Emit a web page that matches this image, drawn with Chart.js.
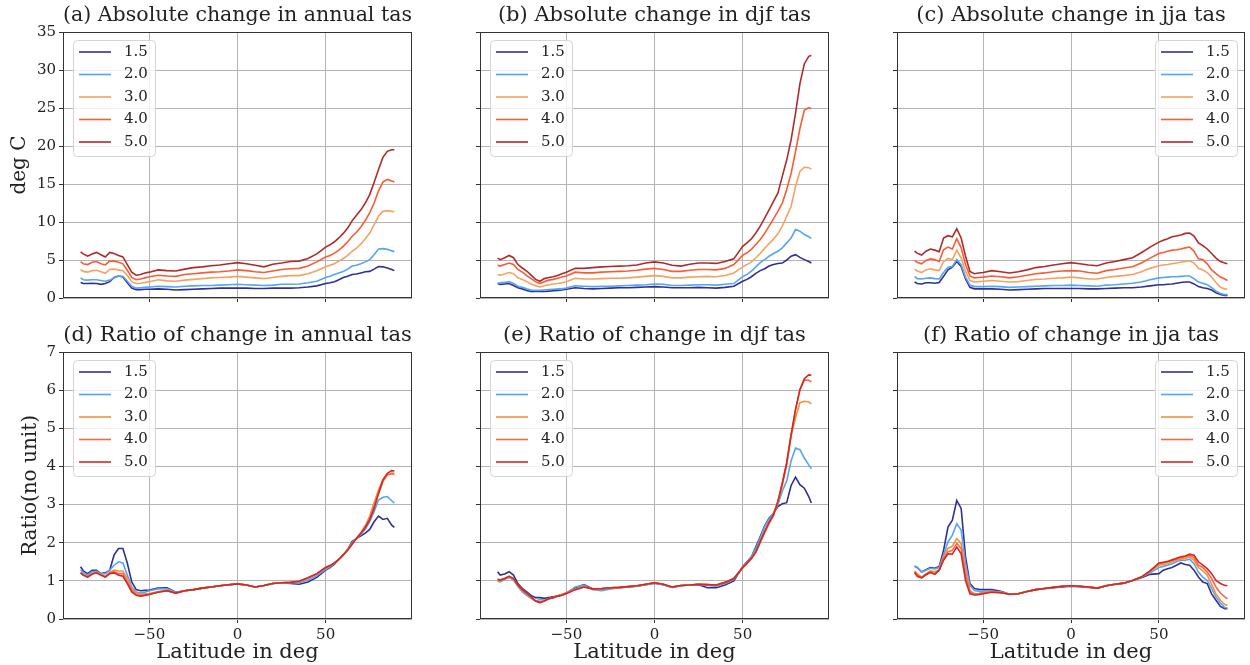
<!DOCTYPE html>
<html><head><meta charset="utf-8">
<script src="https://cdn.jsdelivr.net/npm/chart.js@4.4.0/dist/chart.umd.min.js"></script>
<style>
html,body{margin:0;padding:0;background:#fff;}
#wrap{position:relative;width:1250px;height:665px;overflow:hidden;background:#fff;}
canvas{position:absolute;}
</style></head><body><div id="wrap"></div>
<script>
// ---------- data ----------
const lat = [-89,-87.5,-85,-82.5,-80,-77.5,-75,-72.5,-70,-67.5,-65,-62.5,-60,-57.5,-55,-52.5,-50,
  -45,-40,-35,-30,-25,-20,-15,-10,-5,0,5,10,15,20,25,30,35,40,45,
  50,52.5,55,57.5,60,62.5,65,67.5,70,72.5,75,77.5,80,82.5,85,87.5,89];
const levels = ['1.5','2.0','3.0','4.0','5.0'];
const xTicks = [-50,0,50];
const yTicksAbs = [0,5,10,15,20,25,30,35];
const yTicksRatio = [0,1,2,3,4,5,6,7];

// (a) absolute change, annual
const a15 = [2.05,1.9,1.9,1.95,1.9,1.8,1.9,2.15,2.7,2.9,2.75,2.0,1.3,1.1,1.1,1.15,1.15,
  1.2,1.15,1.05,1.1,1.15,1.2,1.25,1.3,1.3,1.3,1.3,1.25,1.25,1.3,1.3,1.3,1.35,1.45,1.6,
  1.9,2.0,2.15,2.4,2.7,2.85,3.1,3.15,3.3,3.45,3.5,3.8,4.15,4.1,3.95,3.75,3.6];
const a20 = [2.65,2.4,2.35,2.4,2.4,2.3,2.2,2.35,2.65,2.9,2.85,2.2,1.55,1.3,1.35,1.4,1.45,
  1.55,1.5,1.45,1.55,1.6,1.65,1.65,1.7,1.75,1.8,1.75,1.7,1.65,1.7,1.8,1.8,1.85,2.0,2.2,
  2.7,2.85,3.1,3.3,3.5,3.8,4.2,4.3,4.5,4.75,5.05,5.7,6.45,6.5,6.4,6.2,6.1];
const a30 = [3.75,3.5,3.4,3.6,3.65,3.45,3.25,3.75,3.8,3.7,3.6,2.95,2.15,1.9,1.95,2.05,2.15,
  2.4,2.25,2.2,2.35,2.45,2.55,2.65,2.7,2.75,2.85,2.75,2.65,2.55,2.7,2.85,2.95,2.95,3.2,3.6,
  4.1,4.3,4.5,4.85,5.2,5.6,6.15,6.55,7.1,7.8,8.55,9.65,10.75,11.4,11.5,11.4,11.35];
const a40 = [4.8,4.5,4.4,4.7,4.8,4.5,4.35,4.85,4.85,4.7,4.5,3.65,2.7,2.4,2.5,2.65,2.8,
  3.0,2.9,2.85,3.1,3.2,3.3,3.4,3.45,3.55,3.7,3.6,3.45,3.35,3.55,3.75,3.85,3.9,4.2,4.75,
  5.4,5.6,5.9,6.3,6.8,7.4,8.1,8.65,9.35,10.2,11.2,12.5,14.1,15.25,15.6,15.4,15.25];
const a50 = [6.07,5.8,5.5,5.8,6.0,5.7,5.4,6.0,5.85,5.6,5.4,4.4,3.4,3.0,3.1,3.3,3.4,
  3.7,3.6,3.55,3.8,4.0,4.1,4.25,4.35,4.5,4.65,4.5,4.3,4.1,4.45,4.6,4.8,4.85,5.2,5.8,
  6.7,7.0,7.4,7.9,8.5,9.2,10.15,10.9,11.6,12.5,13.6,15.2,16.9,18.5,19.3,19.5,19.5];

// (b) absolute change, djf
const b15 = [1.9,1.8,1.85,1.9,1.65,1.35,1.2,1.0,0.85,0.85,0.85,0.85,0.9,0.95,1.0,1.05,1.15,
  1.35,1.25,1.2,1.25,1.3,1.35,1.35,1.4,1.45,1.5,1.45,1.35,1.35,1.35,1.4,1.35,1.3,1.4,1.55,
  2.2,2.45,2.8,3.25,3.6,3.85,4.2,4.4,4.55,4.6,5.0,5.5,5.7,5.35,5.05,4.8,4.6];
const b20 = [1.95,2.0,2.05,2.15,1.9,1.55,1.4,1.2,1.05,1.0,1.0,1.05,1.1,1.15,1.2,1.2,1.3,
  1.6,1.55,1.5,1.55,1.55,1.6,1.65,1.7,1.75,1.85,1.8,1.65,1.65,1.7,1.75,1.75,1.7,1.8,1.9,
  2.8,3.1,3.55,4.1,4.65,5.05,5.5,5.85,6.15,6.6,7.25,7.9,9.0,8.8,8.35,8.05,7.85];
const b30 = [3.1,3.0,3.15,3.35,3.2,2.65,2.45,2.15,1.85,1.6,1.45,1.6,1.75,1.85,1.9,2.0,2.15,
  2.6,2.5,2.5,2.55,2.6,2.6,2.65,2.75,2.85,2.95,2.85,2.65,2.65,2.75,2.8,2.85,2.8,2.95,3.3,
  4.1,4.4,4.75,5.3,5.85,6.55,7.15,7.75,8.45,9.45,10.75,12.05,14.65,16.65,17.2,17.15,16.95];
const b40 = [4.3,4.2,4.4,4.6,4.4,3.75,3.4,2.95,2.55,2.15,1.9,2.15,2.35,2.45,2.6,2.75,2.9,
  3.4,3.3,3.3,3.4,3.45,3.5,3.55,3.65,3.8,3.9,3.75,3.5,3.5,3.65,3.75,3.75,3.7,3.9,4.4,
  5.6,5.95,6.4,7.05,7.7,8.5,9.45,10.4,11.4,12.5,14.25,16.4,19.25,22.3,24.7,25.05,24.9];
const b50 = [5.25,5.05,5.3,5.6,5.3,4.4,3.95,3.55,3.0,2.45,2.2,2.55,2.7,2.8,2.95,3.2,3.4,
  3.9,3.9,4.0,4.1,4.15,4.2,4.25,4.35,4.6,4.75,4.6,4.3,4.2,4.45,4.6,4.6,4.55,4.8,5.15,
  6.8,7.25,7.8,8.55,9.45,10.5,11.6,12.7,13.8,16.0,18.15,20.8,24.3,28.2,30.8,31.8,31.9];

// (c) absolute change, jja
const c15 = [2.1,1.9,1.85,2.0,2.0,1.95,2.05,2.85,3.7,4.05,4.8,4.15,2.5,1.4,1.2,1.2,1.2,
  1.2,1.15,1.05,1.1,1.15,1.2,1.25,1.25,1.25,1.25,1.25,1.2,1.2,1.25,1.3,1.35,1.35,1.45,1.6,
  1.75,1.75,1.8,1.85,1.95,2.05,2.1,2.1,1.85,1.5,1.35,1.25,1.05,0.7,0.45,0.35,0.35];
const c20 = [2.85,2.55,2.5,2.6,2.65,2.55,2.5,3.35,4.05,4.15,5.05,4.4,2.75,1.7,1.5,1.5,1.5,
  1.55,1.5,1.4,1.45,1.5,1.55,1.6,1.65,1.65,1.7,1.65,1.6,1.55,1.7,1.75,1.85,1.95,2.1,2.4,
  2.65,2.7,2.75,2.8,2.8,2.85,2.9,2.9,2.55,2.1,1.95,1.75,1.35,0.9,0.6,0.45,0.45];
const c30 = [3.8,3.55,3.35,3.7,3.85,3.7,3.6,4.8,5.2,5.05,6.3,5.25,3.5,2.3,2.1,2.15,2.2,
  2.3,2.2,2.1,2.15,2.3,2.45,2.5,2.6,2.65,2.75,2.65,2.5,2.5,2.7,2.85,2.95,3.1,3.45,3.9,
  4.25,4.35,4.4,4.5,4.6,4.7,4.8,4.9,4.6,3.9,3.7,3.35,2.75,2.05,1.4,1.2,1.15];
const c40 = [4.95,4.7,4.5,4.95,5.15,5.05,4.8,6.35,6.7,6.45,7.8,6.6,4.4,2.9,2.65,2.7,2.75,
  2.9,2.8,2.65,2.8,3.0,3.2,3.3,3.45,3.55,3.6,3.55,3.35,3.25,3.6,3.75,3.95,4.1,4.6,5.25,
  5.85,6.0,6.15,6.3,6.35,6.45,6.6,6.7,6.15,5.15,5.05,4.5,3.7,3.2,2.75,2.5,2.3];
const c50 = [6.15,5.9,5.65,6.15,6.45,6.3,6.1,7.9,8.2,8.05,9.1,7.9,5.5,3.5,3.2,3.3,3.35,
  3.6,3.45,3.3,3.45,3.7,4.0,4.15,4.35,4.5,4.65,4.5,4.35,4.25,4.6,4.8,5.05,5.3,5.95,6.7,
  7.35,7.6,7.8,8.05,8.15,8.3,8.5,8.55,8.15,7.25,6.9,6.45,5.85,5.25,4.8,4.6,4.5];

// (d) ratio, annual
const d15 = [1.37,1.26,1.19,1.28,1.28,1.19,1.21,1.28,1.68,1.85,1.85,1.46,0.97,0.77,0.74,0.75,0.76,
  0.81,0.82,0.7,0.74,0.77,0.81,0.84,0.87,0.9,0.92,0.89,0.84,0.88,0.93,0.95,0.93,0.91,0.97,1.09,
  1.28,1.35,1.44,1.56,1.68,1.82,2.03,2.11,2.18,2.25,2.35,2.55,2.7,2.61,2.64,2.46,2.4];
const d20 = [1.3,1.21,1.15,1.24,1.25,1.18,1.19,1.28,1.41,1.5,1.47,1.15,0.84,0.71,0.68,0.7,0.74,
  0.79,0.79,0.7,0.74,0.77,0.81,0.84,0.87,0.9,0.92,0.89,0.84,0.88,0.93,0.95,0.95,0.95,1.02,1.14,
  1.3,1.37,1.46,1.57,1.69,1.82,2.0,2.11,2.22,2.35,2.55,2.81,3.12,3.19,3.21,3.1,3.04];
const d30 = [1.22,1.16,1.11,1.19,1.22,1.16,1.12,1.22,1.28,1.26,1.26,1.06,0.8,0.68,0.65,0.66,0.67,
  0.72,0.75,0.68,0.74,0.77,0.81,0.84,0.87,0.9,0.92,0.89,0.84,0.88,0.93,0.95,0.96,0.98,1.07,1.18,
  1.34,1.4,1.47,1.56,1.68,1.81,1.97,2.12,2.27,2.45,2.7,3.05,3.39,3.65,3.78,3.8,3.78];
const d40 = [1.21,1.15,1.1,1.18,1.21,1.15,1.1,1.2,1.24,1.19,1.19,0.97,0.75,0.64,0.61,0.63,0.65,
  0.71,0.74,0.68,0.74,0.77,0.81,0.84,0.87,0.9,0.92,0.89,0.84,0.88,0.93,0.95,0.96,0.99,1.08,1.19,
  1.35,1.4,1.47,1.56,1.68,1.81,1.96,2.11,2.25,2.42,2.63,2.95,3.28,3.6,3.78,3.82,3.82];
const d50 = [1.21,1.15,1.1,1.18,1.21,1.15,1.1,1.19,1.21,1.15,1.12,0.93,0.71,0.62,0.6,0.62,0.64,
  0.7,0.74,0.68,0.74,0.77,0.81,0.84,0.87,0.9,0.92,0.89,0.84,0.88,0.93,0.95,0.96,0.99,1.08,1.19,
  1.35,1.4,1.47,1.56,1.68,1.81,1.96,2.11,2.25,2.4,2.6,2.9,3.3,3.65,3.82,3.89,3.88];

// (e) ratio, djf
const e15 = [1.24,1.15,1.18,1.24,1.15,0.93,0.8,0.71,0.62,0.56,0.56,0.54,0.56,0.58,0.6,0.64,0.68,
  0.82,0.9,0.79,0.77,0.8,0.82,0.84,0.86,0.9,0.94,0.9,0.83,0.87,0.89,0.9,0.82,0.82,0.89,1.0,
  1.37,1.5,1.63,1.89,2.16,2.44,2.64,2.77,2.95,3.02,3.05,3.5,3.72,3.52,3.43,3.21,3.04];
const e20 = [0.99,0.97,1.04,1.09,1.02,0.85,0.71,0.62,0.54,0.47,0.51,0.5,0.53,0.56,0.6,0.64,0.68,
  0.84,0.89,0.77,0.74,0.79,0.82,0.84,0.86,0.9,0.94,0.9,0.84,0.88,0.89,0.91,0.88,0.86,0.93,1.04,
  1.36,1.48,1.63,1.85,2.13,2.42,2.62,2.78,3.0,3.35,3.62,4.15,4.48,4.44,4.22,4.04,3.94];
const e30 = [1.02,1.0,1.05,1.1,1.04,0.87,0.75,0.66,0.56,0.48,0.45,0.48,0.53,0.56,0.6,0.64,0.68,
  0.78,0.85,0.79,0.79,0.82,0.83,0.85,0.87,0.91,0.95,0.91,0.84,0.88,0.89,0.91,0.9,0.88,0.96,1.06,
  1.33,1.45,1.58,1.75,2.0,2.25,2.5,2.7,3.05,3.5,4.05,4.8,5.27,5.67,5.71,5.69,5.64];
const e40 = [1.04,1.02,1.06,1.12,1.06,0.89,0.77,0.68,0.58,0.47,0.43,0.47,0.53,0.56,0.6,0.62,0.67,
  0.77,0.84,0.79,0.8,0.82,0.83,0.85,0.87,0.91,0.95,0.91,0.84,0.88,0.89,0.91,0.9,0.89,0.96,1.06,
  1.35,1.46,1.59,1.76,2.03,2.29,2.53,2.73,3.08,3.56,4.09,4.83,5.49,6.0,6.27,6.26,6.22];
const e50 = [1.04,1.02,1.06,1.12,1.06,0.89,0.77,0.68,0.58,0.47,0.43,0.47,0.53,0.56,0.6,0.62,0.67,
  0.77,0.84,0.79,0.8,0.82,0.83,0.85,0.87,0.91,0.95,0.91,0.84,0.88,0.89,0.91,0.9,0.89,0.96,1.06,
  1.35,1.46,1.59,1.76,2.03,2.29,2.53,2.73,3.08,3.56,4.09,4.83,5.49,6.02,6.3,6.4,6.39];

// (f) ratio, jja
const f15 = [1.38,1.35,1.23,1.29,1.35,1.33,1.38,1.8,2.41,2.59,3.11,2.9,1.63,0.93,0.8,0.78,0.77,
  0.77,0.73,0.65,0.66,0.72,0.77,0.8,0.82,0.84,0.86,0.85,0.83,0.81,0.87,0.91,0.94,1.01,1.08,1.17,
  1.19,1.28,1.32,1.35,1.41,1.47,1.43,1.41,1.28,1.1,0.97,0.93,0.66,0.49,0.33,0.27,0.27];
const f20 = [1.4,1.35,1.23,1.28,1.33,1.31,1.35,1.67,2.02,2.2,2.5,2.33,1.45,0.88,0.75,0.73,0.73,
  0.73,0.71,0.65,0.66,0.72,0.77,0.8,0.83,0.86,0.87,0.86,0.84,0.81,0.87,0.91,0.94,1.01,1.1,1.21,
  1.35,1.38,1.41,1.45,1.5,1.54,1.54,1.57,1.45,1.23,1.1,1.01,0.8,0.58,0.42,0.3,0.29];
const f30 = [1.26,1.19,1.1,1.19,1.26,1.24,1.29,1.63,1.85,1.91,2.11,1.98,1.28,0.75,0.66,0.67,0.7,
  0.72,0.7,0.65,0.66,0.72,0.77,0.8,0.83,0.86,0.87,0.86,0.84,0.81,0.87,0.91,0.94,1.01,1.1,1.24,
  1.41,1.43,1.45,1.5,1.54,1.57,1.59,1.63,1.54,1.35,1.26,1.15,0.91,0.66,0.49,0.38,0.36];
const f40 = [1.23,1.15,1.08,1.17,1.23,1.19,1.28,1.58,1.76,1.8,1.98,1.85,1.15,0.71,0.65,0.66,0.68,
  0.71,0.69,0.65,0.66,0.72,0.77,0.8,0.83,0.86,0.87,0.86,0.84,0.81,0.87,0.91,0.94,1.01,1.1,1.26,
  1.45,1.47,1.5,1.54,1.57,1.61,1.63,1.67,1.61,1.41,1.35,1.23,1.06,0.84,0.68,0.58,0.53];
const f50 = [1.22,1.12,1.08,1.16,1.22,1.17,1.28,1.54,1.71,1.7,1.89,1.71,1.01,0.66,0.63,0.64,0.66,
  0.7,0.69,0.65,0.66,0.72,0.77,0.8,0.83,0.86,0.87,0.86,0.84,0.81,0.87,0.91,0.94,1.01,1.1,1.26,
  1.47,1.49,1.51,1.55,1.59,1.63,1.65,1.7,1.67,1.5,1.41,1.32,1.19,1.01,0.93,0.88,0.88];

const titles = ['(a) Absolute change in annual tas','(b) Absolute change in djf tas','(c) Absolute change in jja tas',
  '(d) Ratio of change in annual tas','(e) Ratio of change in djf tas','(f) Ratio of change in jja tas'];
const seriesSets = [[a15,a20,a30,a40,a50],[b15,b20,b30,b40,b50],[c15,c20,c30,c40,c50],
  [d15,d20,d30,d40,d50],[e15,e20,e30,e40,e50],[f15,f20,f30,f40,f50]];

// ---------- styles / layout ----------
const FONT = "'DejaVu Serif', 'Liberation Serif', serif";
const colorsTop = ['#2e3192','#55a5f2','#f4a261','#fb5a35','#b02a2a'];
const colorsBot = ['#2e3192','#55a5f2','#f3913f','#ff6545','#cf2b24'];
const pos = [
  {left:0,   top:0,   w:440, h:320, yw:63, padR:28, xh:22},
  {left:420, top:0,   w:430, h:320, yw:60, padR:21, xh:22},
  {left:840, top:0,   w:410, h:320, yw:57, padR:5,  xh:22},
  {left:0,   top:320, w:440, h:345, yw:63, padR:28, xh:46},
  {left:420, top:320, w:430, h:345, yw:60, padR:21, xh:46},
  {left:840, top:320, w:410, h:345, yw:57, padR:5,  xh:46}
];

Chart.defaults.font.family = FONT;
Chart.defaults.color = '#222';

const frame = {
  id:'frame',
  afterDraw(chart){
    const {left,top,right,bottom} = chart.chartArea;
    const ctx = chart.ctx;
    ctx.save();
    ctx.strokeStyle = '#333'; ctx.lineWidth = 1;
    ctx.strokeRect(Math.round(left)+0.5, Math.round(top)+0.5, Math.round(right)-Math.round(left)-1, Math.round(bottom)-Math.round(top)-1);
    ctx.restore();
  }
};

const innerLegend = {
  id:'innerLegend',
  afterDatasetsDraw(chart, args, opts){
    const ca = chart.chartArea, ctx = chart.ctx;
    const w = 82, h = 116;
    const x0 = Math.round(opts.align === 'right' ? ca.right - 8 - w : ca.left + 10);
    const y0 = Math.round(ca.top + 8);
    ctx.save();
    ctx.beginPath();
    ctx.roundRect(x0+0.5, y0+0.5, w, h, 4);
    ctx.fillStyle = 'rgba(255,255,255,0.8)'; ctx.fill();
    ctx.strokeStyle = '#d4d4d4'; ctx.lineWidth = 1; ctx.stroke();
    chart.data.datasets.forEach((ds,i) => {
      const y = y0 + 12 + i*22.5;
      ctx.strokeStyle = ds.borderColor; ctx.lineWidth = ds.borderWidth;
      ctx.beginPath(); ctx.moveTo(x0+6, y); ctx.lineTo(x0+38, y); ctx.stroke();
      ctx.fillStyle = '#222'; ctx.font = '15px ' + FONT;
      ctx.textBaseline = 'middle'; ctx.textAlign = 'left';
      ctx.fillText(ds.label, x0+51, y);
    });
    ctx.restore();
  }
};

const wrap = document.getElementById('wrap');
const fmt = v => (v < 0 ? '\u2212' + Math.abs(v) : String(v));

seriesSets.forEach((set, k) => {
  const p = pos[k];
  const bottomRow = k >= 3, leftCol = (k % 3) === 0, rightCol = (k % 3) === 2;
  const cv = document.createElement('canvas');
  cv.width = p.w; cv.height = p.h;
  cv.style.left = p.left + 'px'; cv.style.top = p.top + 'px';
  wrap.appendChild(cv);
  const cols = bottomRow ? colorsBot : colorsTop;
  const yTicks = bottomRow ? yTicksRatio : yTicksAbs;
  new Chart(cv, {
    type:'line',
    data:{
      datasets: set.map((arr,i) => ({
        label: levels[i],
        data: arr.map((v,j) => ({x: lat[j], y: v})),
        borderColor: cols[i], backgroundColor: cols[i],
        borderWidth: 1.6, pointRadius: 0, tension: 0, fill: false,
        order: 5 - i
      }))
    },
    options:{
      responsive:false, animation:false, events:[],
      layout:{padding:{left:0, right:p.padR, top:0, bottom:0}},
      plugins:{
        legend:{display:false}, tooltip:{enabled:false},
        title:{display:true, text:titles[k], fullSize:false, color:'#222',
          font:{size:21, weight:'normal', family:FONT}, padding:{top:3, bottom:3.8}},
        innerLegend:{align: rightCol ? 'right' : 'left'}
      },
      scales:{
        x:{
          type:'linear', min:-99, max:99,
          afterBuildTicks: s => { s.ticks = xTicks.map(v => ({value:v})); },
          afterFit: s => { s.height = p.xh; },
          ticks:{display:bottomRow, callback: v => fmt(v), font:{size:15}, color:'#222', padding:3, maxRotation:0, autoSkip:false},
          grid:{color:'#b4b4b4', lineWidth:1, tickColor:'#333', tickLength:4, drawOnChartArea:true},
          border:{display:false},
          title:{display:bottomRow, text:'Latitude in deg', font:{size:21}, color:'#222', padding:{top:0, bottom:0}}
        },
        y:{
          type:'linear', min:0, max: yTicks[yTicks.length-1],
          afterBuildTicks: s => { s.ticks = yTicks.map(v => ({value:v})); },
          afterFit: s => { s.width = p.yw; },
          ticks:{display:leftCol, font:{size:15}, color:'#222', padding:3},
          grid:{color:'#b4b4b4', lineWidth:1, tickColor:'#333', tickLength:4},
          border:{display:false},
          title:{display:leftCol, text: bottomRow ? 'Ratio(no unit)' : 'deg C', font:{size:20}, color:'#222',
            padding:{top: bottomRow ? 19 : 8, bottom:0}}
        }
      }
    },
    plugins:[innerLegend, frame]
  });
});
</script>
</body></html>
